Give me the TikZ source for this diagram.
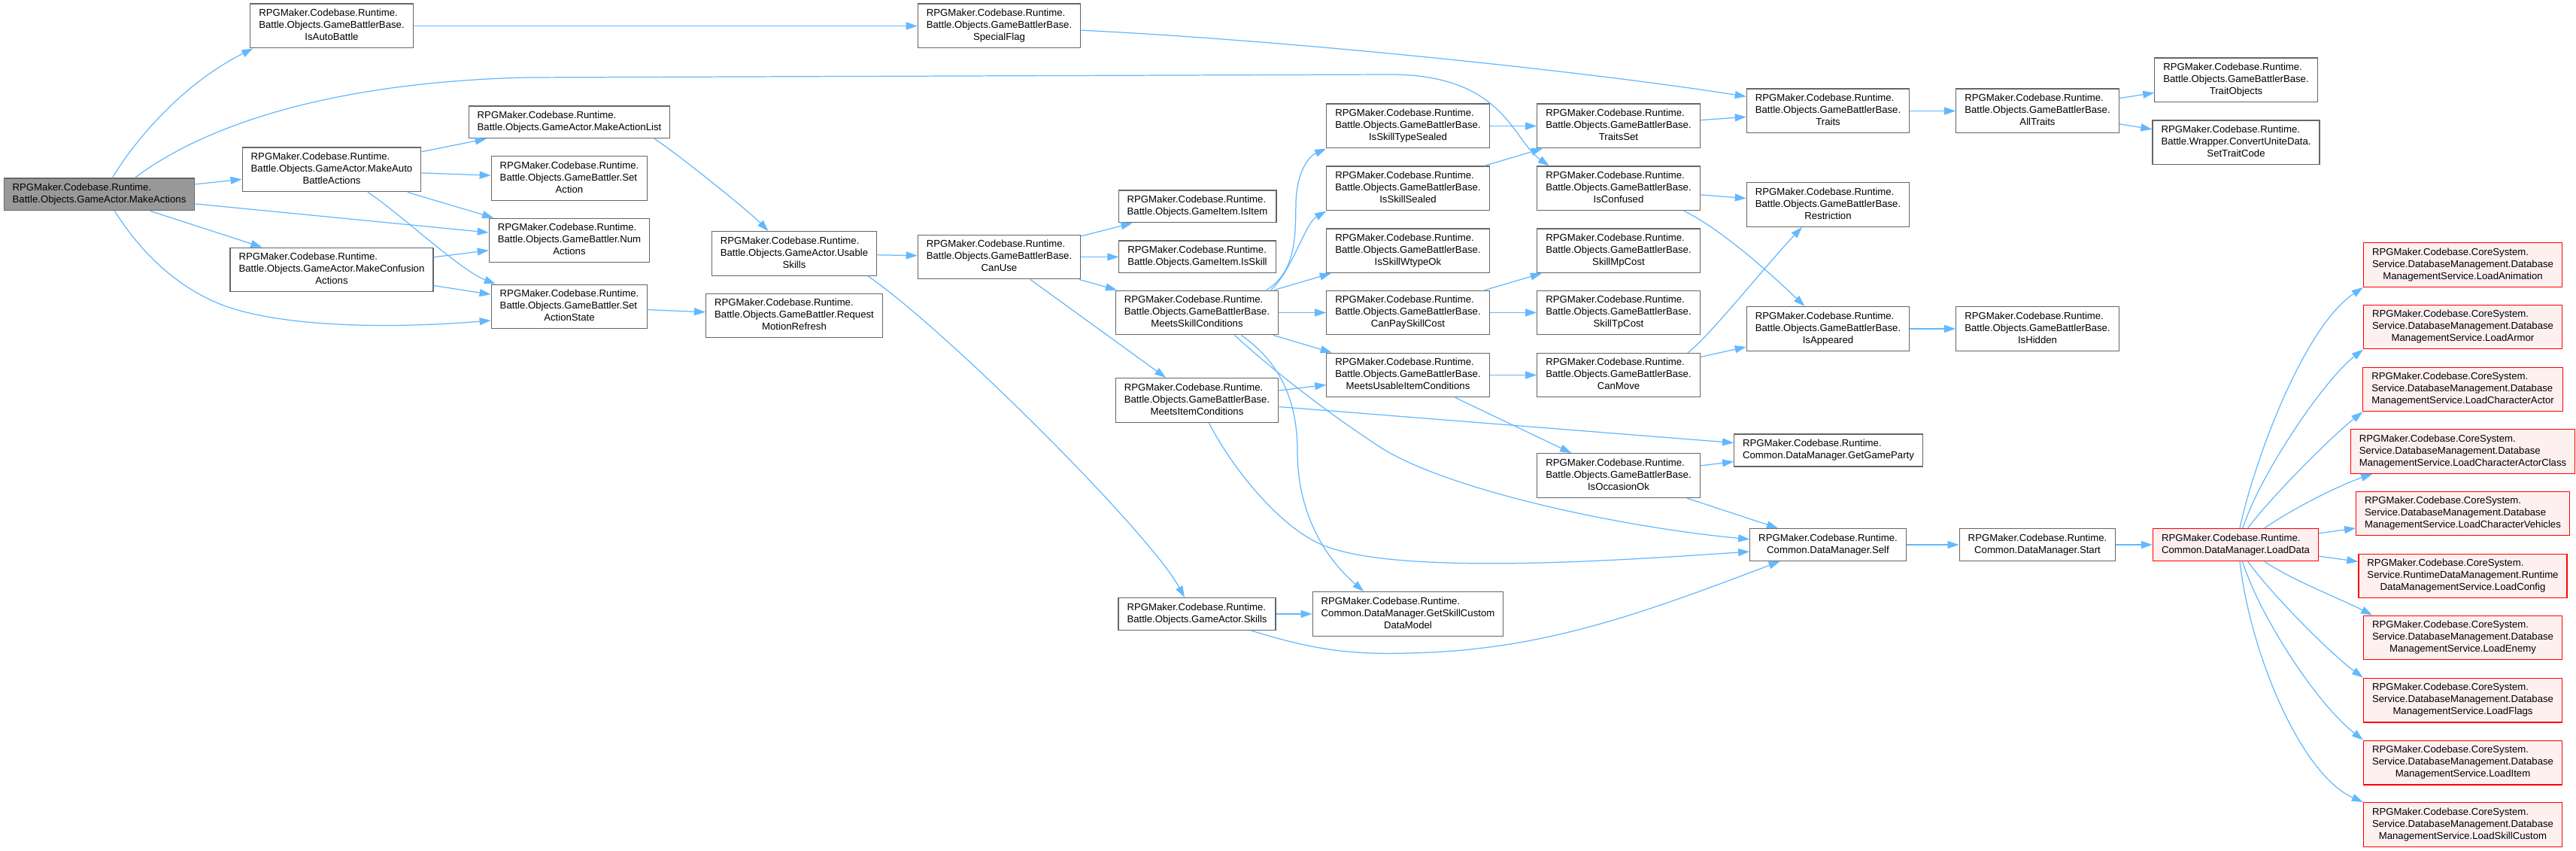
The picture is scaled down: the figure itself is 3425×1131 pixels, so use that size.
\documentclass[tikz,border=0pt]{standalone}
\usepackage{fontspec}
\setmainfont{Liberation Sans}
\usepackage{tikz}
\usetikzlibrary{arrows.meta}
\definecolor{edgeblue}{HTML}{63B8FF}
\definecolor{boxgray}{HTML}{666666}
\definecolor{rootgray}{HTML}{999999}
\definecolor{extfill}{HTML}{FFF0F0}
\newcommand{\fn}[2]{\begin{tabular}{@{}l@{}}#1\\\multicolumn{1}{@{}c@{}}{#2}\end{tabular}}

\begin{document}
\begin{tikzpicture}[x=0.02cm, y=-0.02cm, >={Triangle[length=0.3cm,width=0.2cm]}, every node/.style={font=\fontsize{7.5}{9.1}\selectfont}]
\tikzstyle{fnbox}=[rectangle, draw=boxgray, fill=white, line width=0.7pt, inner xsep=0.23cm, inner ysep=0.108cm]
\tikzstyle{rootbox}=[fnbox, fill=rootgray]
\tikzstyle{extbox}=[fnbox, draw=red, fill=extfill]
\tikzstyle{call}=[->, draw=edgeblue, line width=0.7pt]
\useasboundingbox (0,0) rectangle (3425,1131);
\node[rootbox] (ma) at (132,258.5) {\fn{RPGMaker.Codebase.Runtime.}{Battle.Objects.GameActor.MakeActions}};
\node[fnbox] (isauto) at (441,34.5) {\fn{RPGMaker.Codebase.Runtime.\\Battle.Objects.GameBattlerBase.}{IsAutoBattle}};
\node[fnbox] (mabattle) at (441,225.5) {\fn{RPGMaker.Codebase.Runtime.\\Battle.Objects.GameActor.MakeAuto}{BattleActions}};
\node[fnbox] (mconf) at (441,358.5) {\fn{RPGMaker.Codebase.Runtime.\\Battle.Objects.GameActor.MakeConfusion}{Actions}};
\node[fnbox] (mlist) at (757,162.5) {\fn{RPGMaker.Codebase.Runtime.}{Battle.Objects.GameActor.MakeActionList}};
\node[fnbox] (setact) at (757,237) {\fn{RPGMaker.Codebase.Runtime.\\Battle.Objects.GameBattler.Set}{Action}};
\node[fnbox] (numact) at (757,319.5) {\fn{RPGMaker.Codebase.Runtime.\\Battle.Objects.GameBattler.Num}{Actions}};
\node[fnbox] (setstate) at (757,407.5) {\fn{RPGMaker.Codebase.Runtime.\\Battle.Objects.GameBattler.Set}{ActionState}};
\node[fnbox] (special) at (1328.5,34.5) {\fn{RPGMaker.Codebase.Runtime.\\Battle.Objects.GameBattlerBase.}{SpecialFlag}};
\node[fnbox] (usable) at (1056,337) {\fn{RPGMaker.Codebase.Runtime.\\Battle.Objects.GameActor.Usable}{Skills}};
\node[fnbox] (motion) at (1056,419.5) {\fn{RPGMaker.Codebase.Runtime.\\Battle.Objects.GameBattler.Request}{MotionRefresh}};
\node[fnbox] (canuse) at (1328.5,341.5) {\fn{RPGMaker.Codebase.Runtime.\\Battle.Objects.GameBattlerBase.}{CanUse}};
\node[fnbox] (isitem) at (1592,274.5) {\fn{RPGMaker.Codebase.Runtime.}{Battle.Objects.GameItem.IsItem}};
\node[fnbox] (isskill) at (1592,341.5) {\fn{RPGMaker.Codebase.Runtime.}{Battle.Objects.GameItem.IsSkill}};
\node[fnbox] (msc) at (1591.5,415.5) {\fn{RPGMaker.Codebase.Runtime.\\Battle.Objects.GameBattlerBase.}{MeetsSkillConditions}};
\node[fnbox] (mic) at (1591.5,532) {\fn{RPGMaker.Codebase.Runtime.\\Battle.Objects.GameBattlerBase.}{MeetsItemConditions}};
\node[fnbox] (skills) at (1591.5,816) {\fn{RPGMaker.Codebase.Runtime.}{Battle.Objects.GameActor.Skills}};
\node[fnbox] (typesealed) at (1872,167.5) {\fn{RPGMaker.Codebase.Runtime.\\Battle.Objects.GameBattlerBase.}{IsSkillTypeSealed}};
\node[fnbox] (sealed) at (1872,250.5) {\fn{RPGMaker.Codebase.Runtime.\\Battle.Objects.GameBattlerBase.}{IsSkillSealed}};
\node[fnbox] (wtype) at (1872,333.3) {\fn{RPGMaker.Codebase.Runtime.\\Battle.Objects.GameBattlerBase.}{IsSkillWtypeOk}};
\node[fnbox] (canpay) at (1872,415.5) {\fn{RPGMaker.Codebase.Runtime.\\Battle.Objects.GameBattlerBase.}{CanPaySkillCost}};
\node[fnbox] (muic) at (1872,498.5) {\fn{RPGMaker.Codebase.Runtime.\\Battle.Objects.GameBattlerBase.}{MeetsUsableItemConditions}};
\node[fnbox] (custom) at (1872,816) {\fn{RPGMaker.Codebase.Runtime.\\Common.DataManager.GetSkillCustom}{DataModel}};
\node[fnbox] (traitsset) at (2152,167.5) {\fn{RPGMaker.Codebase.Runtime.\\Battle.Objects.GameBattlerBase.}{TraitsSet}};
\node[fnbox] (confused) at (2152,250.5) {\fn{RPGMaker.Codebase.Runtime.\\Battle.Objects.GameBattlerBase.}{IsConfused}};
\node[fnbox] (mpcost) at (2152,333.3) {\fn{RPGMaker.Codebase.Runtime.\\Battle.Objects.GameBattlerBase.}{SkillMpCost}};
\node[fnbox] (tpcost) at (2152,415.5) {\fn{RPGMaker.Codebase.Runtime.\\Battle.Objects.GameBattlerBase.}{SkillTpCost}};
\node[fnbox] (canmove) at (2152,498.5) {\fn{RPGMaker.Codebase.Runtime.\\Battle.Objects.GameBattlerBase.}{CanMove}};
\node[fnbox] (occasion) at (2152,632) {\fn{RPGMaker.Codebase.Runtime.\\Battle.Objects.GameBattlerBase.}{IsOccasionOk}};
\node[fnbox] (traits) at (2430.5,147.5) {\fn{RPGMaker.Codebase.Runtime.\\Battle.Objects.GameBattlerBase.}{Traits}};
\node[fnbox] (restriction) at (2430.5,272) {\fn{RPGMaker.Codebase.Runtime.\\Battle.Objects.GameBattlerBase.}{Restriction}};
\node[fnbox] (appeared) at (2430.5,437) {\fn{RPGMaker.Codebase.Runtime.\\Battle.Objects.GameBattlerBase.}{IsAppeared}};
\node[fnbox] (party) at (2431,598.5) {\fn{RPGMaker.Codebase.Runtime.}{Common.DataManager.GetGameParty}};
\node[fnbox] (self) at (2430.5,724) {\fn{RPGMaker.Codebase.Runtime.}{Common.DataManager.Self}};
\node[fnbox] (alltraits) at (2709,147.5) {\fn{RPGMaker.Codebase.Runtime.\\Battle.Objects.GameBattlerBase.}{AllTraits}};
\node[fnbox] (hidden) at (2709,437) {\fn{RPGMaker.Codebase.Runtime.\\Battle.Objects.GameBattlerBase.}{IsHidden}};
\node[fnbox] (start) at (2709,724) {\fn{RPGMaker.Codebase.Runtime.}{Common.DataManager.Start}};
\node[fnbox] (traitobj) at (2973,106.5) {\fn{RPGMaker.Codebase.Runtime.\\Battle.Objects.GameBattlerBase.}{TraitObjects}};
\node[fnbox] (settrait) at (2973,189.5) {\fn{RPGMaker.Codebase.Runtime.\\Battle.Wrapper.ConvertUniteData.}{SetTraitCode}};
\node[extbox] (loaddata) at (2972.5,724) {\fn{RPGMaker.Codebase.Runtime.}{Common.DataManager.LoadData}};
\node[extbox] (lanim) at (3274.5,352) {\fn{RPGMaker.Codebase.CoreSystem.\\Service.DatabaseManagement.Database}{ManagementService.LoadAnimation}};
\node[extbox] (larmor) at (3274.5,434.5) {\fn{RPGMaker.Codebase.CoreSystem.\\Service.DatabaseManagement.Database}{ManagementService.LoadArmor}};
\node[extbox] (lactor) at (3274.5,517.5) {\fn{RPGMaker.Codebase.CoreSystem.\\Service.DatabaseManagement.Database}{ManagementService.LoadCharacterActor}};
\node[extbox] (lclass) at (3274.5,600) {\fn{RPGMaker.Codebase.CoreSystem.\\Service.DatabaseManagement.Database}{ManagementService.LoadCharacterActorClass}};
\node[extbox] (lveh) at (3274.5,682.5) {\fn{RPGMaker.Codebase.CoreSystem.\\Service.DatabaseManagement.Database}{ManagementService.LoadCharacterVehicles}};
\node[extbox] (lconf) at (3274.5,765.5) {\fn{RPGMaker.Codebase.CoreSystem.\\Service.RuntimeDataManagement.Runtime}{DataManagementService.LoadConfig}};
\node[extbox] (lenemy) at (3274.5,847.5) {\fn{RPGMaker.Codebase.CoreSystem.\\Service.DatabaseManagement.Database}{ManagementService.LoadEnemy}};
\node[extbox] (lflags) at (3274.5,930.5) {\fn{RPGMaker.Codebase.CoreSystem.\\Service.DatabaseManagement.Database}{ManagementService.LoadFlags}};
\node[extbox] (litem) at (3274.5,1013.5) {\fn{RPGMaker.Codebase.CoreSystem.\\Service.DatabaseManagement.Database}{ManagementService.LoadItem}};
\node[extbox] (lskill) at (3274.5,1096) {\fn{RPGMaker.Codebase.CoreSystem.\\Service.DatabaseManagement.Database}{ManagementService.LoadSkillCustom}};
\draw[call] (ma.52) .. controls (190,170) and (255,105) .. (isauto.196);
\draw[call] (ma.25) .. controls (260,175) and (420,110) .. (700,103) -- (1850,99) .. controls (2000,100) and (2010,185) .. (confused.162);
\draw[call] (ma) -- (mabattle);
\draw[call] (ma) -- (numact);
\draw[call] (ma) -- (mconf);
\draw[call] (ma.-47) .. controls (190,340) and (240,385) .. (300,407) .. controls (380,435) and (520,437) .. (setstate.190);
\draw[call] (mabattle) -- (mlist);
\draw[call] (mabattle) -- (setact);
\draw[call] (mabattle) -- (numact);
\draw[call] (mabattle.-32) .. controls (530,282) and (610,358) .. (setstate.163);
\draw[call] (mconf) -- (numact);
\draw[call] (mconf) -- (setstate);
\draw[call] (mlist.-11) .. controls (895,200) and (995,280) .. (usable.139);
\draw[call] (setstate) -- (motion);
\draw[call] (isauto) -- (special);
\draw[call] (special.-3) .. controls (1736,55) and (2123,97) .. (traits.170);
\draw[call] (usable) -- (canuse);
\draw[call] (usable.-17) .. controls (1260,440) and (1530,710) .. (skills.127);
\draw[call] (canuse) -- (isitem);
\draw[call] (canuse) -- (isskill);
\draw[call] (canuse) -- (msc);
\draw[call] (canuse) -- (mic);
\draw[call] (msc.18) .. controls (1725,360) and (1722,310) .. (1723,270) .. controls (1724,225) and (1742,207) .. (typesealed.south west);
\draw[call] (msc.17) .. controls (1718,360) and (1735,297) .. (sealed.south west);
\draw[call] (msc) -- (wtype);
\draw[call] (msc) -- (canpay);
\draw[call] (msc) -- (muic);
\draw[call] (msc.-27) .. controls (1700,480) and (1725,530) .. (1725,600) .. controls (1725,680) and (1760,740) .. (custom.153);
\draw[call] (msc.-31) .. controls (1690,490) and (1760,545) .. (1833,593) .. controls (1920,650) and (2150,700) .. (self.176);
\draw[call] (mic) -- (muic);
\draw[call] (mic) -- (party);
\draw[call] (mic.-62) .. controls (1635,617) and (1700,701) .. (1760,725) .. controls (1860,765) and (2150,745) .. (self.185);
\draw[call] (skills) -- (custom);
\draw[call] (skills.-17) .. controls (1750,865) and (1800,870) .. (1872,868) .. controls (2050,865) and (2184,815) .. (self.199);
\draw[call] (typesealed) -- (traitsset);
\draw[call] (sealed) -- (traitsset);
\draw[call] (traitsset) -- (traits);
\draw[call] (traits) -- (alltraits);
\draw[call] (alltraits) -- (traitobj);
\draw[call] (alltraits) -- (settrait);
\draw[call] (confused) -- (restriction);
\draw[call] (confused.-19) .. controls (2280,300) and (2340,350) .. (appeared.136);
\draw[call] (canpay) -- (mpcost);
\draw[call] (canpay) -- (tpcost);
\draw[call] (muic) -- (canmove);
\draw[call] (muic) -- (occasion);
\draw[call] (canmove.18) .. controls (2272,448) and (2350,350) .. (restriction.221);
\draw[call] (canmove) -- (appeared);
\draw[call] (appeared) -- (hidden);
\draw[call] (occasion) -- (party);
\draw[call] (occasion) -- (self);
\draw[call] (self) -- (start);
\draw[call] (start) -- (loaddata);
\draw[call] (loaddata.76) .. controls (2995,620) and (3061,436) .. (lanim.south west);
\draw[call] (loaddata.67) .. controls (3005,630) and (3090,505) .. (larmor.south west);
\draw[call] (loaddata.54) .. controls (3020,660) and (3100,580) .. (lactor.south west);
\draw[call] (loaddata.30) .. controls (3050,675) and (3110,645) .. (lclass.194);
\draw[call] (loaddata) -- (lveh);
\draw[call] (loaddata) -- (lconf);
\draw[call] (loaddata.-30) .. controls (3045,770) and (3110,795) .. (lenemy.166);
\draw[call] (loaddata.-54) .. controls (3020,790) and (3100,870) .. (lflags.north west);
\draw[call] (loaddata.-68) .. controls (3005,820) and (3080,935) .. (litem.north west);
\draw[call] (loaddata.-76) .. controls (2992,870) and (3060,1030) .. (lskill.north west);
\end{tikzpicture}
\end{document}
